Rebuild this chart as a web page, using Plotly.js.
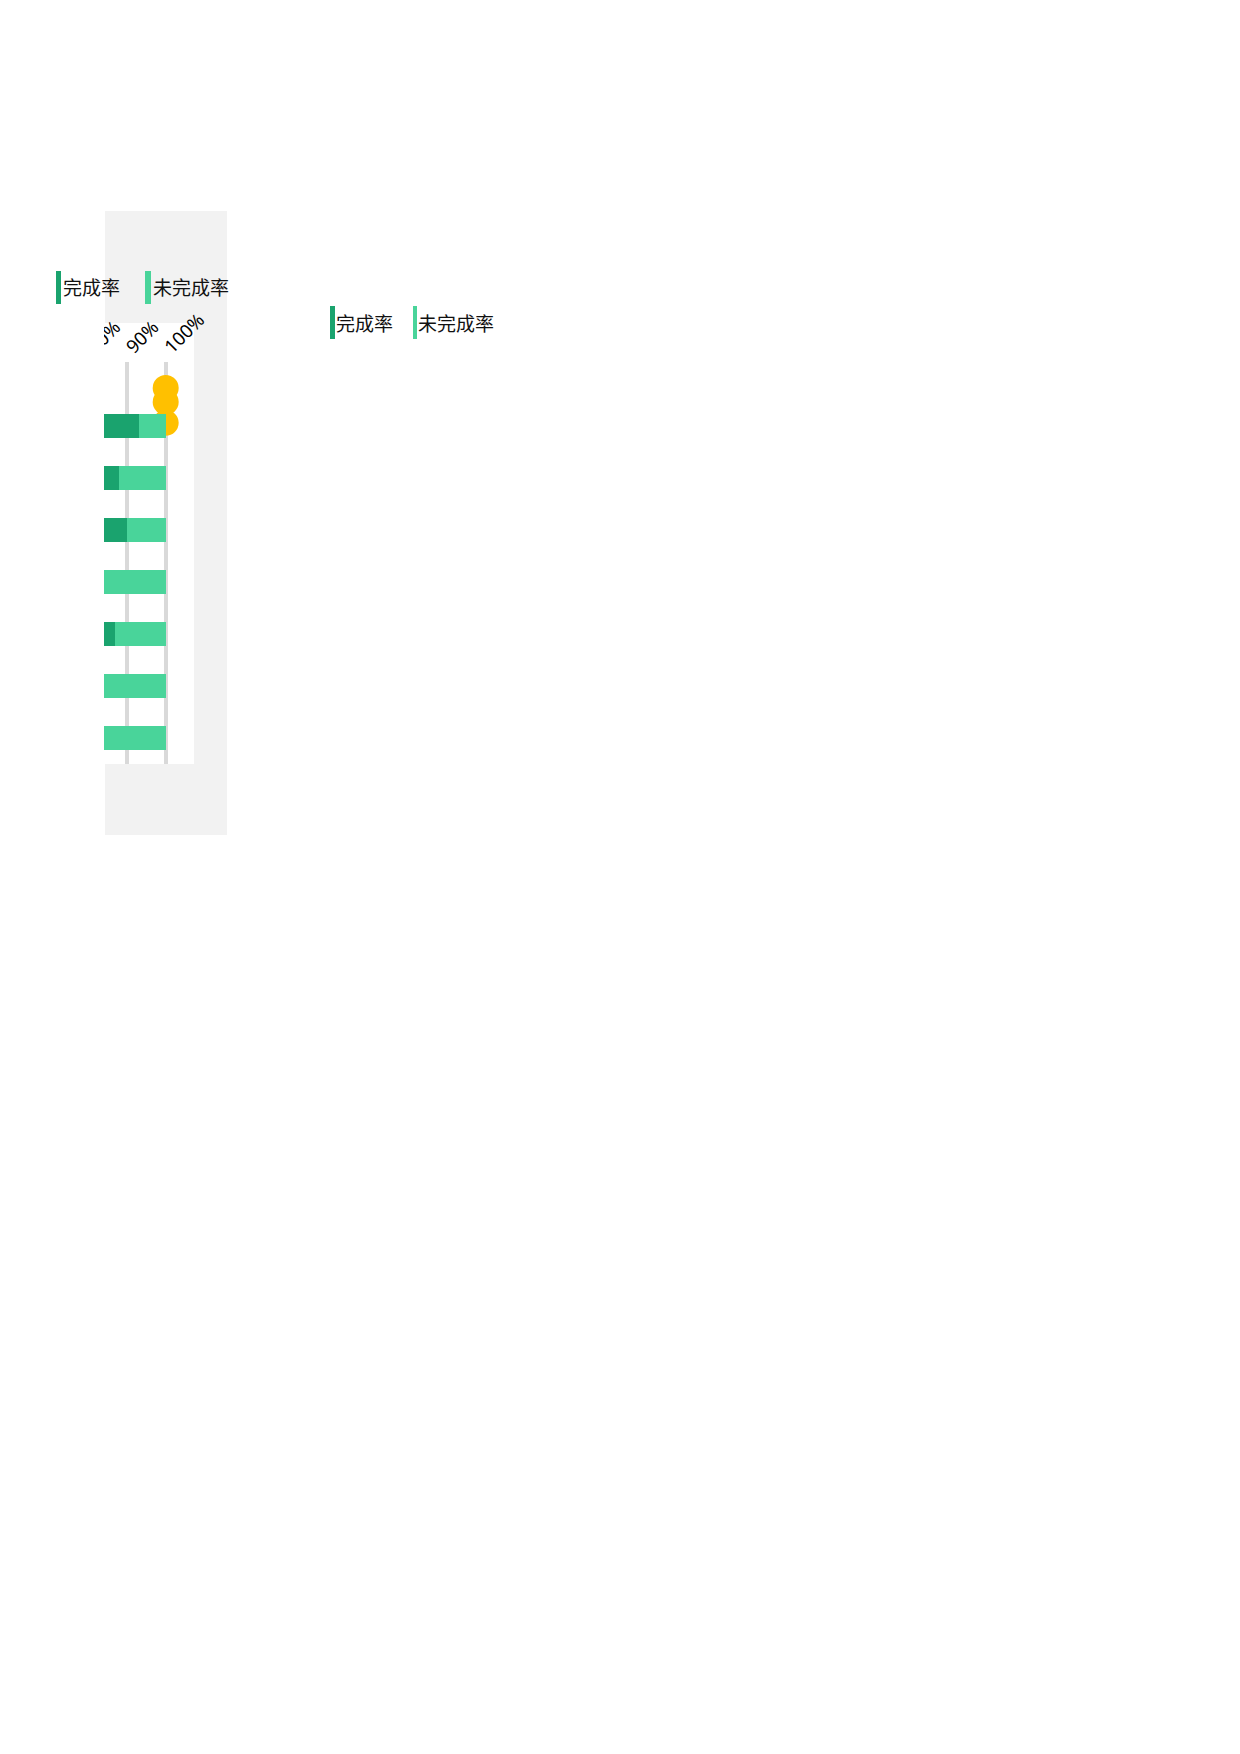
<!DOCTYPE html>
<html>
<head>
<meta charset="utf-8">
<script src="https://cdn.plot.ly/plotly-3.0.1.min.js"></script>
<style>html,body{margin:0;padding:0;background:#fff;}#chart{width:1240px;height:1754px;}</style>
</head>
<body>
<div id="chart"></div>
<script>
// ---- data ----
const categories = ['项目1', '项目2', '项目3', '项目4', '项目5', '项目6', '项目7'];
const completeRate = [92.9, 87.9, 89.9, 80, 86.8, 78, 76];
const incompleteRate = completeRate.map(v => +(100 - v).toFixed(1));
const targetValues = [100, 100, 100];
const targetPositions = [-0.73, -0.46, -0.06];
const seriesNames = ['完成率', '未完成率'];
const tickValues = [70, 80, 90, 100];
const tickLabels = ['70%', '80%', '90%', '100%'];

// ---- layout helpers (pixels -> paper) ----
const W = 1240, H = 1754;
const L = 70, R = 194, T = 362, B = 764;
const xp = px => (px - L) / (R - L);
const yp = py => (B - py) / (B - T);

const darkGreen = '#1aa36e';
const lightGreen = '#49d49a';
const yellow = '#ffc000';

const traces = [
  {
    type: 'scatter', mode: 'markers', x: targetValues, y: targetPositions,
    xaxis: 'x', yaxis: 'y', marker: {color: yellow, size: 26, line: {width: 0}},
    hoverinfo: 'skip', showlegend: false
  },
  {
    type: 'bar', orientation: 'h', name: seriesNames[0], x: completeRate, y: categories,
    xaxis: 'x', yaxis: 'y2', marker: {color: darkGreen, line: {width: 0}}, width: 0.46, showlegend: false
  },
  {
    type: 'bar', orientation: 'h', name: seriesNames[1], x: incompleteRate, y: categories,
    xaxis: 'x', yaxis: 'y2', marker: {color: lightGreen, line: {width: 0}}, width: 0.46, showlegend: false
  }
];

const yRange = [6.5, -1.23];

function rect(x0, y0, x1, y1, color, layer) {
  return {type: 'rect', xref: 'paper', yref: 'paper', x0: xp(x0), x1: xp(x1), y0: yp(y1), y1: yp(y0),
          fillcolor: color, line: {width: 0}, layer: layer};
}
function label(x, y, text) {
  return {xref: 'paper', yref: 'paper', x: xp(x), y: yp(y), text: text, showarrow: false,
          xanchor: 'left', yanchor: 'middle', font: {family: 'Noto Sans CJK SC', size: 19, color: '#111'}};
}

const layout = {
  width: W, height: H,
  margin: {l: L, r: W - R, t: T, b: H - B, pad: 0},
  paper_bgcolor: '#ffffff', plot_bgcolor: 'rgba(0,0,0,0)',
  barmode: 'stack', showlegend: false,
  xaxis: {
    side: 'top', range: [75, 107.4], tickvals: tickValues, ticktext: tickLabels, tickangle: -45,
    showgrid: true, gridcolor: '#d9d9d9', gridwidth: 4, zeroline: false, showline: false, ticks: '',
    tickfont: {family: 'Noto Sans', size: 18.5, color: '#000'}, automargin: false, fixedrange: true
  },
  yaxis: {range: yRange, visible: false, showgrid: false, zeroline: false, automargin: false},
  yaxis2: {type: 'category', overlaying: 'y', range: yRange, visible: false, showgrid: false,
           zeroline: false, automargin: false, categoryorder: 'array', categoryarray: categories},
  shapes: [
    rect(105, 211, 227, 835, '#f2f2f2', 'below'),
    rect(105, 323, 194, 764, '#ffffff', 'below'),
    rect(0, 312, 104, 790, '#ffffff', 'above'),
    rect(56, 271, 61, 304, darkGreen, 'above'),
    rect(145, 271, 151, 304, lightGreen, 'above'),
    rect(330, 306, 335, 339, darkGreen, 'above'),
    rect(413, 306, 417, 339, lightGreen, 'above')
  ],
  annotations: [
    label(61, 286, seriesNames[0]),
    label(151, 286, seriesNames[1]),
    label(334, 322, seriesNames[0]),
    label(416, 322, seriesNames[1])
  ]
};

Plotly.newPlot('chart', traces, layout, {displayModeBar: false, staticPlot: true});
</script>
</body>
</html>
